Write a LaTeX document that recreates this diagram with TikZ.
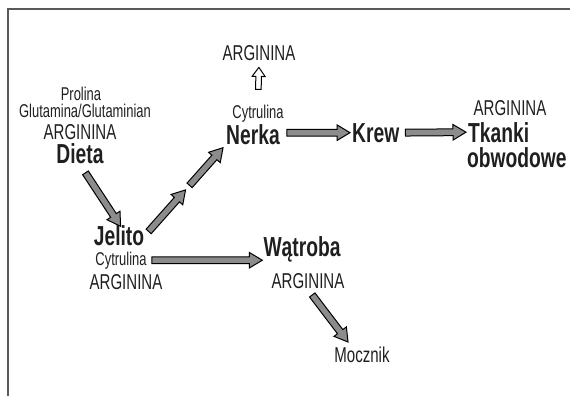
\documentclass[tikz,border=0pt]{standalone}
\usepackage{fontspec}
\setmainfont{Liberation Sans}[FakeStretch=0.70]
\usetikzlibrary{calc}

\definecolor{arrowgray}{gray}{0.55}
\definecolor{inkgray}{gray}{0.12}
\definecolor{framegray}{gray}{0.35}

\tikzset{
  arshaft/.store in=\arshaft, arhead/.store in=\arhead, arlen/.store in=\arlen,
  fatfill/.style={fill=arrowgray, draw=black, line width=1pt, line join=miter,
    arshaft=3.4pt, arhead=7.8pt, arlen=13pt},
  hollow/.style={fill=white, draw=black, line width=1pt, line join=miter,
    arshaft=2.8pt, arhead=6.5pt, arlen=9pt},
  txtsmall/.style={font=\fontsize{18.5}{20}\selectfont, text=inkgray, inner sep=1pt, anchor=base},
  txtplain/.style={font=\fontsize{21.5}{23}\selectfont, text=inkgray, inner sep=1pt, anchor=base},
  txtorgan/.style={font=\fontsize{27.5}{29}\selectfont\bfseries, text=inkgray, inner sep=1pt, anchor=base},
}

% block arrow: [style]{from}{to}{gap at start}{gap at end}
\newcommand{\fatarrow}[5][fatfill]{%
  \draw[#1] let \p1=($(#2)!#4!(#3)$), \p2=($(#3)!#5!(#2)$), \p3=($(\p2)-(\p1)$),
    \n1={atan2(\y3,\x3)}, \n2={veclen(\x3,\y3)} in
    [shift={(\p1)}, rotate=\n1]
    (0pt,-\arshaft) -- ({\n2-\arlen},-\arshaft) -- ({\n2-\arlen},-\arhead) -- ({\n2*1pt},0pt)
    -- ({\n2-\arlen},\arhead) -- ({\n2-\arlen},\arshaft) -- (0pt,\arshaft) -- cycle;}

\begin{document}
\begin{tikzpicture}[x=1pt, y=-1pt]
  \useasboundingbox (0,0) rectangle (570,396);
  \draw[framegray, line width=1.1pt] (570,9) -- (8,9) -- (8,396); % frame

  \node[txtplain] (argtop) at (259,61) {ARGININA};
  \node[txtsmall] (cytn) at (258,118) {Cytrulina};
  \node[txtorgan] (nerka) at (253,144) {Nerka};
  \node[txtorgan, anchor=base west] (krew) at (351,142) {Krew};
  \node[txtplain] (argt) at (510,115) {ARGININA};
  \node[txtorgan, anchor=base west] (tkanki) at (467,142) {Tkanki};
  \node[txtorgan, anchor=base west, inner sep=0pt] (obw) at (467,167) {obwodowe};

  \node[txtsmall] (prolina) at (81,100) {Prolina};
  \node[txtsmall] (gluta) at (85,117) {Glutamina/Glutaminian};
  \node[txtplain] (argd) at (80,139) {ARGININA};
  \node[txtorgan] (dieta) at (80,163) {Dieta};

  \node[txtorgan] (jelito) at (119,245) {Jelito};
  \node[txtsmall] (cytj) at (121,265) {Cytrulina};
  \node[txtplain] (argj) at (126,289) {ARGININA};

  \node[txtorgan] (watroba) at (302,256) {Wątroba};
  \node[txtplain] (argw) at (308,288) {ARGININA};
  \node[txtplain] (mocznik) at (362,362) {Mocznik};

  \coordinate (brk) at ($(jelito.east)!0.53!(nerka.south west)$); % break in the arrow
  \coordinate (nk) at (krew.west -| nerka.east);
  \coordinate (cw) at (cytj.east -| watroba.west);
  \coordinate (mtop) at ($(mocznik.north)!0.4!(mocznik.north west)$);

  \fatarrow{dieta.south}{jelito.north}{10pt}{-3pt}
  \fatarrow{jelito.east}{brk}{5pt}{3pt}
  \fatarrow{brk}{nerka.south west}{3pt}{3pt}
  \fatarrow{nk}{krew.west}{6pt}{1pt}
  \fatarrow{krew.east}{tkanki.west}{5pt}{1pt}
  \fatarrow{cytj.east}{cw}{4pt}{0pt}
  \fatarrow{argw.south}{mtop}{7pt}{4pt}
  \fatarrow[hollow]{cytn.north}{argtop.south}{14pt}{5pt}
\end{tikzpicture}
\end{document}
